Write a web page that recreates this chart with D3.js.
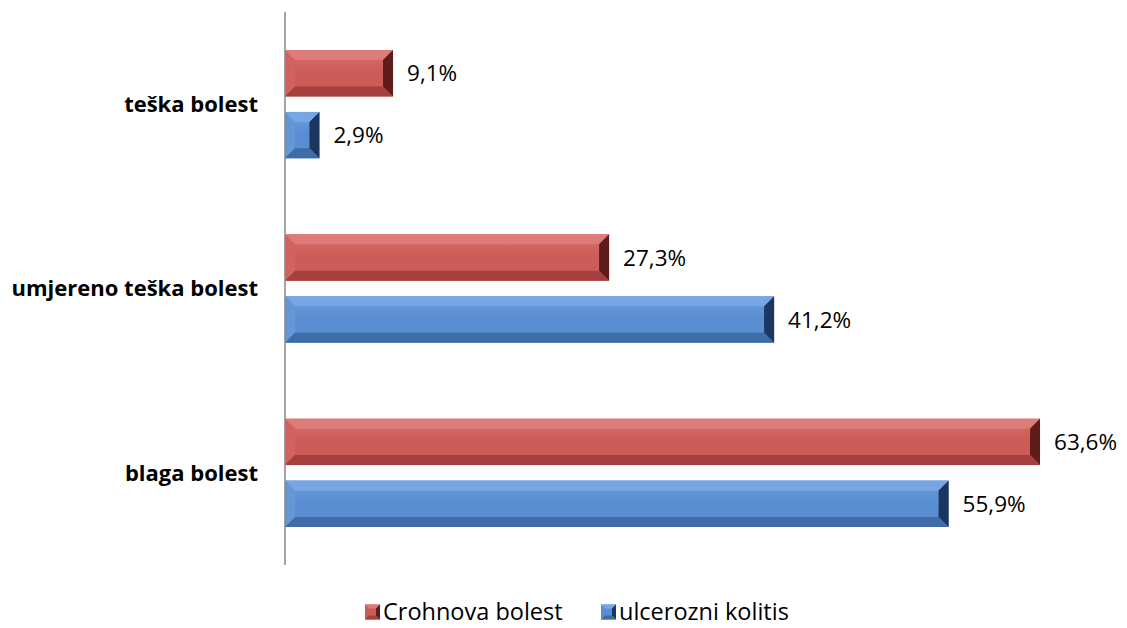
<!DOCTYPE html>
<html>
<head>
<meta charset="utf-8">
<script src="https://cdn.jsdelivr.net/npm/d3@7"></script>
<style>
  body { margin: 0; background: #fff; }
  text { font-family: "Open Sans", Lato, sans-serif; fill: #000; }
</style>
</head>
<body>
<div id="wrapper"></div>
<script>
const categories = ["teška bolest", "umjereno teška bolest", "blaga bolest"]
const seriesNames = ["Crohnova bolest", "ulcerozni kolitis"]
const crohnValues = [9.1, 27.3, 63.6]
const ucValues = [2.9, 41.2, 55.9]

// face, top, left, right, bottom shades for each series
const seriesShades = [
    { face: "#cd5b58", faceTop: "#d8706d", top: "#dc7b78", left: "#d2625f", right: "#5e1c1a", bottom: "#a4403d" },
    { face: "#5a8ed2", faceTop: "#6c9ddc", top: "#76a7e4", left: "#6596d6", right: "#1d3660", bottom: "#3f6ba6" },
]

const dimensions = {
    width: 1127,
    height: 628,
    margin: { top: 12, right: 11, bottom: 63, left: 285 },
}
dimensions.boundedWidth = dimensions.width - dimensions.margin.left - dimensions.margin.right

const rows = []
categories.forEach((c, i) => {
    rows.push({ cat: c, series: 0, value: crohnValues[i] })
    rows.push({ cat: c, series: 1, value: ucValues[i] })
})

const svg = d3.select("#wrapper").append("svg")
    .attr("width", dimensions.width)
    .attr("height", dimensions.height)

const defs = svg.append("defs")
seriesShades.forEach((s, i) => {
    const g = defs.append("linearGradient")
        .attr("id", "face-" + i)
        .attr("x1", 0).attr("x2", 0).attr("y1", 0).attr("y2", 1)
    g.append("stop").attr("offset", "0%").attr("stop-color", s.faceTop)
    g.append("stop").attr("offset", "45%").attr("stop-color", s.face)
    g.append("stop").attr("offset", "100%").attr("stop-color", s.face)
})

const bounds = svg.append("g")
    .attr("transform", `translate(${dimensions.margin.left},${dimensions.margin.top})`)

const xScale = d3.scaleLinear()
    .domain([0, 70])
    .range([0, dimensions.boundedWidth])

const yScale = d3.scaleBand()
    .domain(categories)
    .range([0, 553])

const innerScale = d3.scaleBand()
    .domain([0, 1])
    .range([38, yScale.bandwidth() - 38])
    .paddingInner(0.25)

const bev = 10

const bars = bounds.selectAll(".bar")
    .data(rows)
    .join("g")
    .attr("class", "bar")
    .attr("transform", d => `translate(0,${yScale(d.cat) + innerScale(d.series)})`)

bars.each(function (d) {
    const g = d3.select(this)
    const w = xScale(d.value)
    const h = innerScale.bandwidth()
    const b = Math.min(bev, w / 2, h / 2)
    const s = seriesShades[d.series]
    g.append("rect")
        .attr("width", w).attr("height", h)
        .attr("fill", `url(#face-${d.series})`)
    const edges = [
        { pts: [[0, 0], [w, 0], [w - b, b], [b, b]], c: s.top },
        { pts: [[0, 0], [b, b], [b, h - b], [0, h]], c: s.left },
        { pts: [[w, 0], [w, h], [w - b, h - b], [w - b, b]], c: s.right },
        { pts: [[0, h], [b, h - b], [w - b, h - b], [w, h]], c: s.bottom },
    ]
    g.selectAll("path")
        .data(edges)
        .join("path")
        .attr("d", e => "M" + e.pts.join("L") + "Z")
        .attr("fill", e => e.c)
})

bars.append("text")
    .attr("x", d => xScale(d.value) + 14)
    .attr("y", d => innerScale.bandwidth() / 2)
    .attr("dy", "0.36em")
    .style("font-size", "22.5px")
    .text(d => d3.format(".1f")(d.value).replace(".", ",") + "%")

// axis line
bounds.append("line")
    .attr("x1", 0).attr("x2", 0)
    .attr("y1", 0).attr("y2", 553)
    .attr("stroke", "#868686")
    .attr("stroke-width", 1.5)

bounds.selectAll(".cat-label")
    .data(categories)
    .join("text")
    .attr("class", "cat-label")
    .attr("x", -27)
    .attr("y", d => yScale(d) + yScale.bandwidth() / 2)
    .attr("dy", "0.36em")
    .attr("text-anchor", "end")
    .style("font-size", "22px")
    .style("font-weight", "bold")
    .text(d => d)

// legend
const legend = svg.append("g")
    .attr("transform", "translate(365,612)")
const legendItems = legend.selectAll("g")
    .data(seriesNames)
    .join("g")
    .attr("transform", (d, i) => `translate(${i * 236},0)`)
legendItems.each(function (d, i) {
    const g = d3.select(this)
    const sh = seriesShades[i]
    const s = 15, b = 4
    g.append("rect").attr("x", 0).attr("y", -s / 2).attr("width", s).attr("height", s)
        .attr("fill", sh.face)
    const pts = [
        { p: [[0, 0], [s, 0], [s - b, b], [b, b]], c: sh.top },
        { p: [[s, 0], [s, s], [s - b, s - b], [s - b, b]], c: sh.right },
        { p: [[0, s], [b, s - b], [s - b, s - b], [s, s]], c: sh.bottom },
    ]
    g.selectAll("path").data(pts).join("path")
        .attr("transform", `translate(0,${-s / 2})`)
        .attr("d", e => "M" + e.p.join("L") + "Z")
        .attr("fill", e => e.c)
    g.append("text")
        .attr("x", 18)
        .attr("dy", "0.36em")
        .style("font-size", "23.5px")
        .text(d)
})
</script>
</body>
</html>
